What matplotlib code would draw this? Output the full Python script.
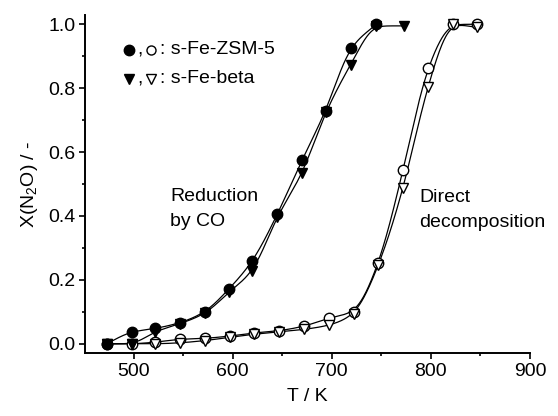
import numpy as np
import matplotlib
matplotlib.use("Agg")
import matplotlib.pyplot as plt
from matplotlib.ticker import MultipleLocator, FormatStrFormatter

plt.rcParams['font.family'] = ['Liberation Sans', 'DejaVu Sans']
plt.rcParams['mathtext.fontset'] = 'custom'
plt.rcParams['mathtext.rm'] = 'Liberation Sans'
plt.rcParams['mathtext.it'] = 'Liberation Sans'
plt.rcParams['mathtext.default'] = 'regular'

# ---- data ----
T_red_zsm = [473, 498, 522, 547, 572, 596, 620, 645, 670, 694, 719, 745]
X_red_zsm = [0.0, 0.037, 0.048, 0.066, 0.100, 0.171, 0.259, 0.405, 0.575, 0.730, 0.927, 1.0]
T_red_beta = [473, 498, 522, 547, 572, 596, 620, 645, 670, 694, 719, 745, 773]
X_red_beta = [0.0, 0.0, 0.038, 0.063, 0.095, 0.161, 0.228, 0.398, 0.533, 0.725, 0.873, 0.995, 0.995]
T_dec = [473, 498, 522, 547, 572, 597, 622, 647, 672, 697, 722, 747, 772, 797, 822, 847]
X_dec_zsm = [0.0, 0.0, 0.005, 0.014, 0.017, 0.024, 0.034, 0.041, 0.055, 0.080, 0.100, 0.252, 0.544, 0.864, 1.0, 1.0]
X_dec_beta = [0.0, 0.0, 0.0, 0.003, 0.010, 0.020, 0.030, 0.037, 0.045, 0.058, 0.093, 0.245, 0.487, 0.805, 1.0, 0.99]
xticks = [500, 600, 700, 800, 900]
yticks = [0.0, 0.2, 0.4, 0.6, 0.8, 1.0]


def smooth_curve(x, y, step=0.5, sigma=7.0):
    """Monotone cubic through the points, then lightly Gaussian-smoothed."""
    x = np.asarray(x, float); y = np.asarray(y, float)
    h = np.diff(x); d = np.diff(y) / h
    m = np.zeros_like(x)
    for k in range(1, len(x) - 1):
        if d[k - 1] * d[k] > 0:
            w1 = 2 * h[k] + h[k - 1]; w2 = h[k] + 2 * h[k - 1]
            m[k] = (w1 + w2) / (w1 / d[k - 1] + w2 / d[k])
    m[0] = d[0]; m[-1] = d[-1]
    xs = np.arange(x[0], x[-1] + step / 2, step)
    idx = np.clip(np.searchsorted(x, xs) - 1, 0, len(x) - 2)
    t = (xs - x[idx]) / h[idx]
    h00 = 2 * t**3 - 3 * t**2 + 1; h10 = t**3 - 2 * t**2 + t
    h01 = -2 * t**3 + 3 * t**2; h11 = t**3 - t**2
    ys = h00 * y[idx] + h10 * h[idx] * m[idx] + h01 * y[idx + 1] + h11 * h[idx] * m[idx + 1]
    half = int(4 * sigma / step)
    kern = np.exp(-0.5 * (np.arange(-half, half + 1) * step / sigma) ** 2)
    kern /= kern.sum()
    # extend ends linearly (odd reflection) to keep endpoints
    left = 2 * ys[0] - ys[1:half + 1][::-1]
    right = 2 * ys[-1] - ys[-half - 1:-1][::-1]
    ext = np.concatenate([left, ys, right])
    ysm = np.convolve(ext, kern, mode='valid')
    return xs, ysm


fig = plt.figure(figsize=(5.58, 4.16), dpi=100)
ax = fig.add_axes([0.1523, 0.1514, 0.7975, 0.8125])

lw = 0.9
ms = 7.5
for T, X, mk, fc in [(T_dec, X_dec_zsm, 'o', 'white'), (T_dec, X_dec_beta, 'v', 'white'),
                     (T_red_zsm, X_red_zsm, 'o', 'black'), (T_red_beta, X_red_beta, 'v', 'black')]:
    xs, ys = smooth_curve(T, X)
    ax.plot(xs, ys, color='black', lw=lw, zorder=2)
    ax.plot(T, X, linestyle='none', marker=mk, ms=ms, mfc=fc, mec='black', mew=1.0, zorder=3)

ax.set_xlim(451, 900)
ax.set_ylim(-0.029, 1.029)
ax.set_xticks(xticks)
ax.set_yticks(yticks)
ax.xaxis.set_minor_locator(MultipleLocator(50))
ax.yaxis.set_minor_locator(MultipleLocator(0.1))
ax.yaxis.set_major_formatter(FormatStrFormatter('%.1f'))
for s in ['top', 'right']:
    ax.spines[s].set_visible(False)
for s in ['left', 'bottom']:
    ax.spines[s].set_linewidth(1.4)
ax.tick_params(which='major', direction='out', length=4, width=1.2, labelsize=14, pad=3)
ax.tick_params(which='minor', direction='out', length=2.5, width=1.2)

ax.set_xlabel('T / K', fontsize=14, labelpad=6)
ax.set_ylabel('X(N$_2$O) / -', fontsize=14, labelpad=6)

fs = 14
ax.text(537, 0.448, 'Reduction', fontsize=fs, va='baseline', ha='left')
ax.text(537, 0.368, 'by CO', fontsize=fs, va='baseline', ha='left')
ax.text(788.5, 0.444, 'Direct', fontsize=fs, va='baseline', ha='left')
ax.text(788.5, 0.365, 'decomposition', fontsize=fs, va='baseline', ha='left')

# legend-like annotation
for yy, mk, label in [(0.921, 'o', 's-Fe-ZSM-5'), (0.830, 'v', 's-Fe-beta')]:
    ax.plot([495.3], [yy], marker=mk, ms=ms, mfc='black', mec='black', linestyle='none', clip_on=False)
    ax.plot([518.1], [yy], marker=mk, ms=6.5, mfc='white', mec='black', mew=1.0, linestyle='none', clip_on=False)
    ax.text(506.5, yy, ',', fontsize=fs, va='center', ha='center')
    ax.text(527, yy, ': ' + label, fontsize=fs, va='center', ha='left')

fig.savefig('out.png', dpi=100)
